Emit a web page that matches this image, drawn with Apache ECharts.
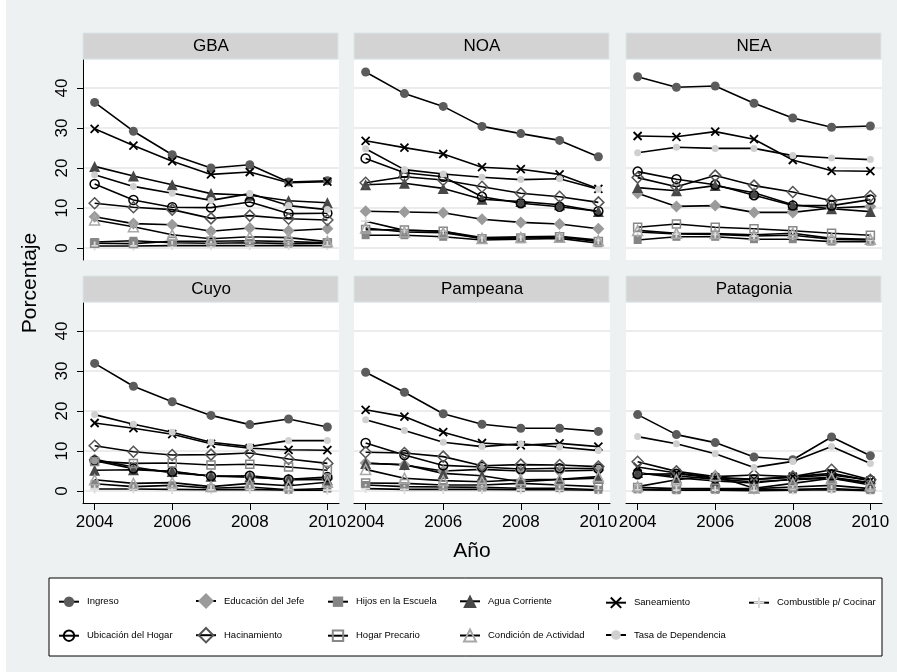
<!DOCTYPE html>
<html>
<head>
<meta charset="utf-8">
<script src="https://cdn.jsdelivr.net/npm/echarts@6/dist/echarts.min.js"></script>
<style>
  html, body { margin: 0; padding: 0; background: #fff; }
  #chart { position: absolute; left: 6px; top: 0; width: 891px; height: 672px; }
</style>
</head>
<body>
<div id="chart"></div>
<script>
// regiones y años
var regions = ['GBA', 'NOA', 'NEA', 'Cuyo', 'Pampeana', 'Patagonia'];
var years = [2004, 2005, 2006, 2007, 2008, 2009, 2010];
var xTicks = [2004, 2006, 2008, 2010];
var yTicks = [0, 10, 20, 30, 40];

// cada fila = una region (GBA, NOA, NEA, Cuyo, Pampeana, Patagonia)
var ingreso = [
  [36.4, 29.2, 23.3, 20.0, 20.8, 16.5, 16.8],
  [44.0, 38.6, 35.4, 30.4, 28.6, 26.9, 22.8],
  [42.8, 40.2, 40.5, 36.2, 32.5, 30.2, 30.5],
  [31.9, 26.2, 22.3, 18.9, 16.6, 18.0, 16.0],
  [29.7, 24.7, 19.3, 16.7, 15.7, 15.7, 14.9],
  [19.1, 14.1, 12.1, 8.5, 7.8, 13.5, 8.8]
];
var educacion = [
  [7.8, 6.1, 5.8, 4.2, 5.0, 4.3, 4.8],
  [9.2, 9.0, 8.8, 7.2, 6.4, 6.0, 4.8],
  [13.7, 10.4, 10.6, 8.9, 8.9, 10.0, 10.4],
  [7.9, 6.0, 4.5, 3.8, 3.5, 2.8, 3.0],
  [7.0, 6.5, 5.0, 5.4, 5.0, 5.0, 5.2],
  [4.4, 3.8, 2.9, 2.3, 2.8, 3.2, 1.9]
];
var hijos = [
  [1.5, 1.8, 1.3, 1.2, 1.3, 1.1, 1.2],
  [3.2, 3.2, 2.8, 2.0, 2.2, 2.4, 1.2],
  [2.0, 2.8, 2.8, 2.2, 2.2, 1.6, 1.6],
  [1.8, 1.1, 1.4, 0.7, 1.0, 0.3, 0.6],
  [1.5, 1.1, 1.0, 0.9, 0.7, 0.7, 0.3],
  [0.4, 0.2, 0.3, 0.3, 0.4, 0.6, 0.2]
];
var agua = [
  [20.4, 18.0, 15.8, 13.6, 13.2, 11.8, 11.3],
  [15.8, 16.2, 14.9, 12.2, 11.6, 10.8, 9.1],
  [15.1, 14.3, 15.6, 13.8, 10.8, 9.8, 9.1],
  [5.2, 5.3, 4.9, 3.7, 3.5, 2.9, 2.8],
  [6.9, 6.6, 4.4, 3.8, 2.3, 2.9, 3.2],
  [4.6, 3.3, 2.5, 2.0, 3.0, 3.4, 2.1]
];
var saneamiento = [
  [29.8, 25.6, 21.7, 18.4, 19.0, 16.3, 16.6],
  [26.8, 25.1, 23.5, 20.2, 19.7, 18.4, 14.8],
  [28.0, 27.8, 29.1, 27.2, 22.0, 19.3, 19.2],
  [17.0, 15.7, 14.2, 11.8, 10.7, 10.3, 10.2],
  [20.3, 18.6, 14.7, 12.0, 11.4, 11.9, 11.1],
  [6.0, 4.5, 3.4, 2.9, 3.6, 4.4, 2.6]
];
var combustible = [
  [0.5, 0.5, 0.6, 0.6, 0.6, 0.6, 0.6],
  [6.7, 4.4, 4.2, 2.6, 2.8, 2.9, 2.0],
  [4.0, 3.5, 3.4, 3.0, 3.2, 2.2, 2.0],
  [0.5, 0.5, 0.4, 0.3, 0.4, 0.2, 0.2],
  [0.6, 0.4, 0.4, 0.4, 0.3, 0.3, 0.2],
  [0.3, 0.2, 0.2, 0.1, 0.2, 0.3, 0.1]
];
var ubicacion = [
  [16.0, 12.0, 10.2, 10.1, 11.5, 8.6, 8.7],
  [22.4, 18.8, 17.8, 12.8, 11.2, 10.3, 9.2],
  [19.1, 17.2, 15.8, 13.2, 10.6, 10.6, 12.1],
  [7.6, 5.6, 4.8, 3.7, 3.8, 2.9, 3.5],
  [12.0, 9.0, 6.4, 6.0, 5.5, 5.7, 5.6],
  [4.2, 4.3, 3.2, 2.9, 3.4, 4.0, 2.7]
];
var hacinamiento = [
  [11.2, 10.2, 9.6, 7.4, 8.1, 7.3, 7.0],
  [16.3, 17.8, 17.0, 15.3, 13.7, 12.8, 11.4],
  [17.6, 15.3, 18.1, 15.6, 14.0, 11.8, 13.0],
  [11.3, 9.8, 9.0, 9.1, 9.5, 8.0, 6.9],
  [9.7, 9.5, 8.6, 6.3, 6.6, 6.5, 6.1],
  [7.3, 4.9, 3.6, 4.0, 3.6, 5.3, 2.8]
];
var precario = [
  [1.2, 1.1, 1.7, 1.7, 1.8, 1.6, 1.3],
  [4.6, 4.5, 4.2, 2.3, 2.5, 2.8, 1.6],
  [5.2, 6.0, 5.2, 4.8, 4.3, 3.7, 3.2],
  [7.4, 6.9, 7.0, 6.5, 6.7, 6.0, 5.2],
  [2.0, 1.9, 1.5, 1.5, 1.9, 1.5, 1.1],
  [0.9, 0.6, 0.6, 0.6, 1.0, 1.4, 0.6]
];
var condicion = [
  [7.0, 5.3, 3.3, 2.3, 2.8, 2.6, 1.6],
  [5.0, 4.0, 3.8, 2.4, 2.6, 2.7, 1.8],
  [4.4, 3.7, 3.6, 3.3, 3.7, 2.4, 2.2],
  [2.8, 1.9, 2.1, 1.1, 1.9, 1.3, 2.2],
  [5.4, 3.2, 2.6, 2.3, 2.8, 2.9, 3.6],
  [1.1, 2.8, 3.8, 0.7, 1.9, 3.2, 1.5]
];
var tasa = [
  [18.3, 15.4, 13.7, 11.9, 13.6, 10.6, 9.6],
  [24.8, 19.6, 18.5, 17.7, 17.1, 17.3, 14.7],
  [23.8, 25.2, 24.9, 24.9, 23.1, 22.5, 22.1],
  [19.1, 16.7, 14.7, 12.2, 11.1, 12.6, 12.6],
  [17.8, 15.1, 12.2, 11.1, 11.8, 11.0, 10.1],
  [13.6, 11.8, 9.3, 5.9, 7.4, 11.1, 6.9]
];

var pathX = 'path://M0,0L10,10M10,0L0,10';
var pathPlus = 'path://M5,0L5,10M0,5L10,5';

// estilo de cada indicador (orden de la leyenda); leg = alto del icono en la leyenda
var indicators = [
  { name: 'Ingreso', data: ingreso, symbol: 'circle', size: 9, fill: '#5c5c5c', border: '#5c5c5c', bw: 0, leg: 13 },
  { name: 'Educación del Jefe', data: educacion, symbol: 'diamond', size: 12, fill: '#9b9b9b', border: '#9b9b9b', bw: 0, leg: 20 },
  { name: 'Hijos en la Escuela', data: hijos, symbol: 'rect', size: 8, fill: '#858585', border: '#858585', bw: 0, leg: 13 },
  { name: 'Agua Corriente', data: agua, symbol: 'triangle', size: 11, fill: '#474747', border: '#474747', bw: 0, leg: 17 },
  { name: 'Saneamiento', data: saneamiento, symbol: pathX, size: 8, fill: 'rgba(0,0,0,0)', border: '#000', bw: 1.8, leg: 13 },
  { name: 'Combustible p/ Cocinar', data: combustible, symbol: pathPlus, size: 9, fill: 'rgba(0,0,0,0)', border: '#dcdcdc', bw: 1.8, leg: 13 },
  { name: 'Ubicación del Hogar', data: ubicacion, symbol: 'circle', size: 9, fill: 'rgba(0,0,0,0)', border: '#000', bw: 1.5, leg: 13 },
  { name: 'Hacinamiento', data: hacinamiento, symbol: 'diamond', size: 11, fill: 'rgba(0,0,0,0)', border: '#555', bw: 1.5, leg: 18 },
  { name: 'Hogar Precario', data: precario, symbol: 'rect', size: 8, fill: 'rgba(0,0,0,0)', border: '#888', bw: 1.5, leg: 13 },
  { name: 'Condición de Actividad', data: condicion, symbol: 'triangle', size: 10, fill: 'rgba(0,0,0,0)', border: '#a8a8a8', bw: 1.5, leg: 15 },
  { name: 'Tasa de Dependencia', data: tasa, symbol: 'circle', size: 7, fill: '#d0d0d0', border: '#d0d0d0', bw: 0, leg: 12 }
];

var chart = echarts.init(document.getElementById('chart'));
var FONT = '"Liberation Sans", Arial, sans-serif';

// posiciones de los paneles (px relativos al div)
var colLeft = [77, 348, 620];
var rowTop = [60, 303];
var panelW = 256, panelH = 200;

var grids = [], xAxes = [], yAxes = [], series = [], graphics = [];

regions.forEach(function (reg, p) {
  var col = p % 3, row = Math.floor(p / 3);
  var left = colLeft[col], top = rowTop[row];
  grids.push({
    left: left, top: top, width: panelW, height: panelH,
    show: true, backgroundColor: '#fff', borderWidth: 0
  });
  xAxes.push({
    gridIndex: p, type: 'value', min: 2003.7, max: 2010.3,
    splitLine: { show: false },
    axisLine: { show: row === 1, onZero: false, lineStyle: { color: '#000', width: 1 } },
    axisTick: { show: row === 1, length: 7, customValues: xTicks, lineStyle: { color: '#000' } },
    axisLabel: {
      show: row === 1, customValues: xTicks, margin: 11,
      fontFamily: FONT, fontSize: 17, color: '#000',
      formatter: function (v) { return String(v); }
    }
  });
  yAxes.push({
    gridIndex: p, type: 'value', min: -3, max: 47,
    axisLine: { show: col === 0, onZero: false, lineStyle: { color: '#000', width: 1 } },
    axisTick: { show: col === 0, length: 6, customValues: yTicks, lineStyle: { color: '#000' } },
    axisLabel: {
      show: col === 0, customValues: yTicks, rotate: 90, margin: 12,
      fontFamily: FONT, fontSize: 17, color: '#000'
    },
    splitLine: { show: true, lineStyle: { color: '#e6e6e6', width: 1.5 } }
  });
  // franja del título del panel
  graphics.push({
    type: 'rect', shape: { x: left, y: top - 27, width: panelW - 1, height: 26 },
    style: { fill: '#d3d3d3', stroke: '#dbe5e8', lineWidth: 1 }
  });
  graphics.push({
    type: 'text', x: left + panelW / 2, y: top - 14,
    style: { text: reg, fill: '#000', font: '17px ' + FONT, textAlign: 'center', textVerticalAlign: 'middle' }
  });
  indicators.forEach(function (ind) {
    series.push({
      name: ind.name, type: 'line', xAxisIndex: p, yAxisIndex: p,
      data: years.map(function (y, i) { return [y, ind.data[p][i]]; }),
      symbol: ind.symbol, symbolSize: ind.size, showAllSymbol: true,
      itemStyle: { color: ind.fill, borderColor: ind.border, borderWidth: ind.bw },
      lineStyle: { color: '#000', width: 1.6 },
      animation: false
    });
  });
});

// leyenda: 6 columnas, 2 filas
var legendX = [52, 189, 321, 453, 599, 742];
var legendRowMid = [603, 636];
var legends = indicators.map(function (ind, i) {
  var r = i < 6 ? 0 : 1, c = i < 6 ? i : i - 6;
  return {
    data: [ind.name], left: legendX[c], top: legendRowMid[r] - ind.leg / 2, padding: 0,
    itemWidth: 20, itemHeight: ind.leg, itemGap: 0, selectedMode: false,
    textStyle: { fontFamily: FONT, fontSize: 9.5, color: '#000', padding: [0, 0, 0, 3] }
  };
});

graphics.push({
  type: 'rect', z: -1, shape: { x: 43, y: 578, width: 833, height: 78 },
  style: { fill: '#fff', stroke: '#000', lineWidth: 1 }
});
graphics.push({
  type: 'text', x: 24, y: 283, rotation: Math.PI / 2,
  style: { text: 'Porcentaje', fill: '#000', font: '21px ' + FONT, textAlign: 'center', textVerticalAlign: 'middle' }
});
graphics.push({
  type: 'text', x: 466, y: 551,
  style: { text: 'Año', fill: '#000', font: '21px ' + FONT, textAlign: 'center', textVerticalAlign: 'middle' }
});

var option = {
  backgroundColor: '#eef1f1',
  animation: false,
  grid: grids,
  xAxis: xAxes,
  yAxis: yAxes,
  legend: legends,
  series: series,
  graphic: graphics
};

chart.setOption(option);
</script>
</body>
</html>
